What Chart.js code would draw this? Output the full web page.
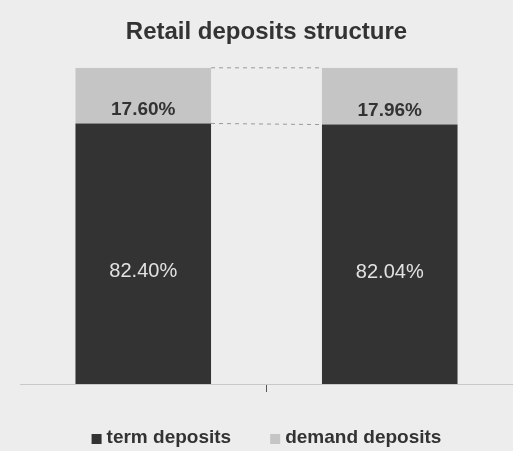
<!DOCTYPE html>
<html>
<head>
<meta charset="utf-8">
<script src="https://cdn.jsdelivr.net/npm/chart.js@4.4.0/dist/chart.umd.min.js"></script>
<style>
    html, body { margin: 0; padding: 0; background: #ededed; }
    #wrap { width: 513px; height: 451px; }
</style>
</head>
<body>
<div id="wrap"><canvas id="depositsChart"></canvas></div>
<script>
// Data
const categories = ['2011', '2012'];
const termDeposits = [82.40, 82.04];
const demandDeposits = [17.60, 17.96];

const TERM_COLOR = '#333333';
const DEMAND_COLOR = '#c5c5c5';
const FONT = '"Liberation Sans", Arial, sans-serif';

// value labels, dashed connectors and a wide-spaced legend at the bottom
const barExtras = {
    id: 'barExtras',
    afterDatasetsDraw(chart) {
        const ctx = chart.ctx;
        const term = chart.getDatasetMeta(0).data;
        const demand = chart.getDatasetMeta(1).data;

        // connector lines
        ctx.save();
        ctx.strokeStyle = '#9a9a9a';
        ctx.lineWidth = 1;
        ctx.setLineDash([4, 4]);
        for (let i = 0; i < term.length - 1; i++) {
            const a = demand[i], b = demand[i + 1];
            const ta = term[i], tb = term[i + 1];
            ctx.beginPath();
            ctx.moveTo(a.x + a.width / 2, a.y);
            ctx.lineTo(b.x - b.width / 2, b.y);
            ctx.moveTo(ta.x + ta.width / 2, ta.y);
            ctx.lineTo(tb.x - tb.width / 2, tb.y);
            ctx.stroke();
        }
        ctx.restore();

        ctx.save();
        ctx.textAlign = 'center';
        ctx.textBaseline = 'middle';
        term.forEach((el, i) => {
            ctx.fillStyle = '#e2e2e2';
            ctx.font = '20px ' + FONT;
            ctx.fillText(termDeposits[i].toFixed(2) + '%', el.x, (el.y + el.base) / 2 + 18);
        });
        demand.forEach((el, i) => {
            ctx.fillStyle = '#333333';
            ctx.font = 'bold 19px ' + FONT;
            ctx.fillText(demandDeposits[i].toFixed(2) + '%', el.x, el.base - 14);
        });
        ctx.restore();
    },
    afterDraw(chart) {
        // legend
        const ctx = chart.ctx;
        const box = 10, gap = 5, itemGap = 39;
        const y = chart.chartArea.bottom + 54;
        ctx.save();
        ctx.font = 'bold 19px ' + FONT;
        ctx.textBaseline = 'middle';
        ctx.textAlign = 'left';
        const items = chart.data.datasets.map(ds => ({
            text: ds.label,
            color: ds.backgroundColor,
            w: box + gap + ctx.measureText(ds.label).width
        }));
        const total = items.reduce((s, it) => s + it.w, 0) + itemGap * (items.length - 1);
        let x = (chart.chartArea.left + chart.chartArea.right) / 2 - total / 2;
        items.forEach(it => {
            ctx.fillStyle = it.color;
            ctx.fillRect(x, y - box / 2 + 1, box, box);
            ctx.fillStyle = '#333333';
            ctx.fillText(it.text, x + box + gap, y);
            x += it.w + itemGap;
        });
        ctx.restore();
    }
};

const ctx = document.getElementById('depositsChart').getContext('2d');
new Chart(ctx, {
    type: 'bar',
    data: {
        labels: categories,
        datasets: [
            {
                label: 'term deposits',
                data: termDeposits,
                backgroundColor: TERM_COLOR,
                categoryPercentage: 1,
                barPercentage: 0.55
            },
            {
                label: 'demand deposits',
                data: demandDeposits,
                backgroundColor: DEMAND_COLOR,
                categoryPercentage: 1,
                barPercentage: 0.55
            }
        ]
    },
    options: {
        responsive: true,
        maintainAspectRatio: false,
        animation: false,
        layout: { padding: { left: 20, right: 0, top: 0, bottom: 0 } },
        scales: {
            x: {
                stacked: true,
                ticks: { display: false },
                grid: {
                    drawOnChartArea: false,
                    tickLength: 8,
                    color: c => c.index === 1 ? '#555555' : 'rgba(0,0,0,0)'
                },
                border: { display: true, color: '#c8c8c8' },
                afterFit: s => { s.height = 67; }
            },
            y: {
                stacked: true,
                display: false,
                min: 0,
                max: 100
            }
        },
        plugins: {
            title: {
                display: true,
                text: 'Retail deposits structure',
                color: '#333333',
                font: { family: FONT, size: 24, weight: 'bold' },
                padding: { top: 18, bottom: 21 }
            },
            legend: { display: false },
            tooltip: { enabled: false }
        }
    },
    plugins: [barExtras]
});
</script>
</body>
</html>
